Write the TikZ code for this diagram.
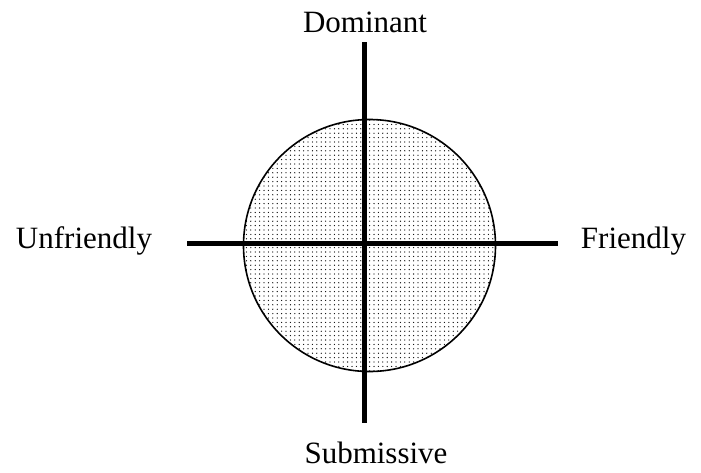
\documentclass[tikz,border=0pt]{standalone}
\usepackage{fontspec}
\setmainfont{Liberation Serif}
\usetikzlibrary{patterns.meta}
\begin{document}
\begin{tikzpicture}[x=1pt,y=-1pt,
  lbl/.style={anchor=base,inner sep=0pt,font=\fontsize{31}{36}\selectfont},
  axis/.style={line width=5pt},
  disc/.style={draw,line width=1.6pt,pattern={Dots[distance=4.4pt,radius=0.65pt]}}]
\useasboundingbox (0,0) rectangle (701,472);
\filldraw[disc] (369.5,245.5) circle (126);
\coordinate (top) at (364,42);
\coordinate (bot) at (364,423);
\coordinate (lft) at (187,243);
\coordinate (rgt) at (558,243);
\draw[axis] (top) -- (bot);
\draw[axis] (lft) -- (rgt);
\node[lbl] (dom) at (365,32) {Dominant};
\node[lbl] (sub) at (376,463) {Submissive};
\node[lbl] (unf) at (84,248) {Unfriendly};
\node[lbl] (fri) at (633.5,248) {Friendly};
\end{tikzpicture}
\end{document}
